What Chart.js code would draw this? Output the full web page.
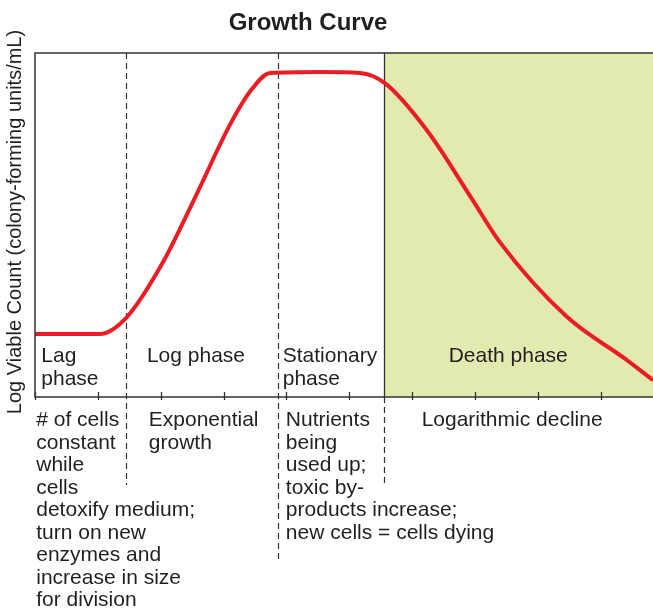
<!DOCTYPE html>
<html>
<head>
<meta charset="utf-8">
<script src="https://cdn.jsdelivr.net/npm/chart.js@4/dist/chart.umd.min.js"></script>
<style>
  body { margin: 0; background: #fff; }
  canvas { display: block; }
</style>
</head>
<body>
<canvas id="growthChart" width="653" height="615"></canvas>
<script>
// time (arbitrary units, one tick per unit) and log viable count
const timeX = [0, 1.03, 1.45, 2.03, 2.58, 3.10, 3.45, 3.74, 4.53, 5.17, 5.56, 6.23, 6.96, 7.39, 8.46, 9.41, 9.83];
const logCount = [1.83, 1.83, 2.30, 3.90, 5.93, 7.91, 8.95, 9.42, 9.45, 9.42, 9.13, 7.76, 5.73, 4.51, 2.33, 1.08, 0.49];

const tickValues = [0, 1, 2, 3, 4, 5, 6, 7, 8, 9];
const phaseBounds = [1.45, 3.86, 5.55];
const deathStart = 5.55;
const xMax = 9.83;

const phaseNames = [
  { x: 0.1, lines: ['Lag', 'phase'] },
  { x: 1.78, lines: ['Log phase'] },
  { x: 3.94, lines: ['Stationary', 'phase'] },
  { x: 6.58, lines: ['Death phase'] }
];
const phaseNotes = [
  { x: 0.02, lines: ['# of cells', 'constant', 'while', 'cells', 'detoxify medium;', 'turn on new', 'enzymes and', 'increase in size', 'for division'] },
  { x: 1.81, lines: ['Exponential', 'growth'] },
  { x: 3.99, lines: ['Nutrients', 'being', 'used up;', 'toxic by-', 'products increase;', 'new cells = cells dying'] },
  { x: 6.15, lines: ['Logarithmic decline'] }
];
// how far down each dashed divider runs below the axis (px)
const dividerDrop = [88, 166, 86];

const FONT = '"Liberation Sans", Arial, Helvetica, sans-serif';

const decor = {
  id: 'decor',
  beforeDatasetsDraw(chart) {
    const { ctx, chartArea: a, scales: { x } } = chart;
    ctx.save();
    // death phase shading
    const sx = x.getPixelForValue(deathStart);
    ctx.fillStyle = '#e2eab0';
    ctx.fillRect(sx, a.top, a.right - sx, a.bottom - a.top);

    // dashed dividers
    ctx.strokeStyle = '#333';
    ctx.lineWidth = 1.2;
    ctx.setLineDash([6, 4]);
    phaseBounds.forEach((b, i) => {
      const px = Math.round(x.getPixelForValue(b)) + 0.5;
      ctx.beginPath();
      ctx.moveTo(px, i === 2 ? a.bottom : a.top);
      ctx.lineTo(px, a.bottom + dividerDrop[i]);
      ctx.stroke();
    });
    ctx.setLineDash([]);
    // solid edge of the shaded box
    ctx.strokeStyle = '#333';
    ctx.lineWidth = 1.3;
    ctx.beginPath();
    ctx.moveTo(Math.round(sx) + 0.5, a.top);
    ctx.lineTo(Math.round(sx) + 0.5, a.bottom);
    ctx.stroke();
    ctx.restore();
  },
  afterDraw(chart) {
    const { ctx, chartArea: a, scales: { x } } = chart;
    ctx.save();
    // frame: left, top, bottom
    ctx.strokeStyle = '#333';
    ctx.lineWidth = 1.5;
    ctx.beginPath();
    ctx.moveTo(a.right, a.top);
    ctx.lineTo(a.left, a.top);
    ctx.lineTo(a.left, a.bottom);
    ctx.lineTo(a.right, a.bottom);
    ctx.stroke();
    // tick marks
    ctx.lineWidth = 1.3;
    tickValues.forEach(t => {
      const px = Math.round(x.getPixelForValue(t)) + 0.5;
      ctx.beginPath();
      ctx.moveTo(px, a.bottom - 5);
      ctx.lineTo(px, a.bottom + 3);
      ctx.stroke();
    });

    ctx.fillStyle = '#231f20';
    ctx.textBaseline = 'alphabetic';
    ctx.textAlign = 'left';
    ctx.font = '21px ' + FONT;
    phaseNames.forEach(p => {
      p.lines.forEach((line, i) => ctx.fillText(line, x.getPixelForValue(p.x), 362 + i * 22.5));
    });
    phaseNotes.forEach(p => {
      p.lines.forEach((line, i) => ctx.fillText(line, x.getPixelForValue(p.x), 426 + i * 22.5));
    });

    // title
    ctx.font = 'bold 24px ' + FONT;
    ctx.textAlign = 'center';
    ctx.fillText('Growth Curve', 308, 30);

    // y axis label
    ctx.font = '20px ' + FONT;
    ctx.translate(21, 222);
    ctx.rotate(-Math.PI / 2);
    ctx.fillText('Log Viable Count (colony-forming units/mL)', 0, 0);
    ctx.restore();
  }
};

new Chart(document.getElementById('growthChart'), {
  type: 'line',
  data: {
    datasets: [{
      data: timeX.map((t, i) => ({ x: t, y: logCount[i] })),
      borderColor: '#ec1c24',
      borderWidth: 4,
      pointRadius: 0,
      cubicInterpolationMode: 'monotone',
      fill: false
    }]
  },
  options: {
    responsive: false,
    animation: false,
    layout: { padding: { left: 35, top: 53, right: 0, bottom: 218 } },
    plugins: { legend: { display: false }, tooltip: { enabled: false } },
    scales: {
      x: { type: 'linear', min: 0, max: xMax, display: false },
      y: { min: 0, max: 10, display: false }
    }
  },
  plugins: [decor]
});
</script>
</body>
</html>
